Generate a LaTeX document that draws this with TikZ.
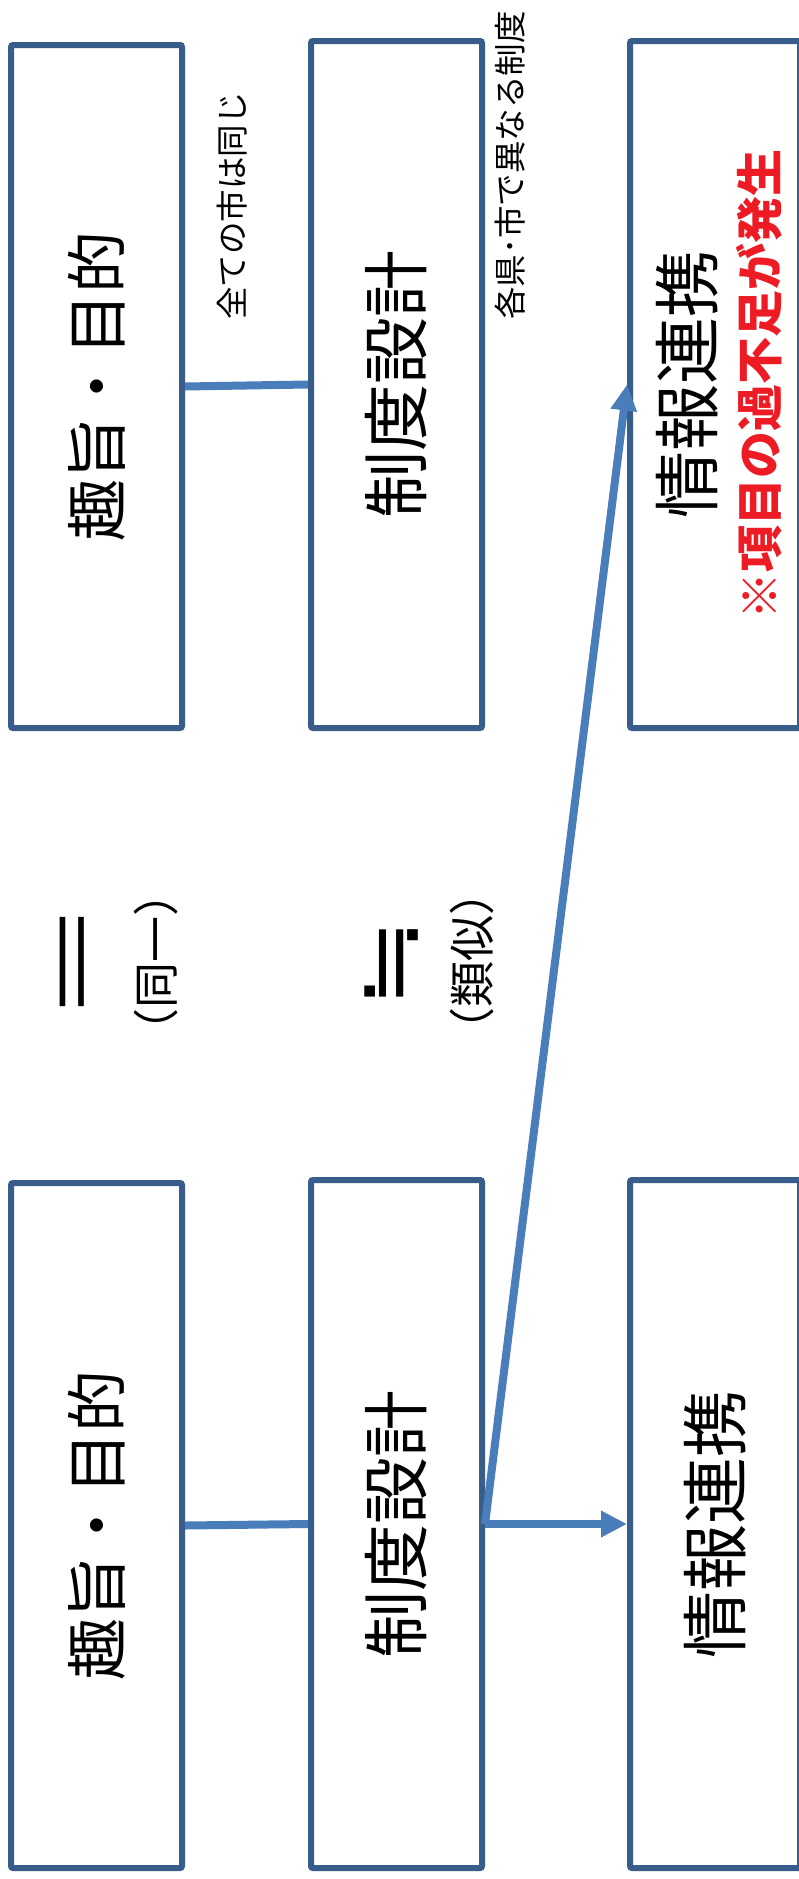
\documentclass[tikz,border=0pt]{standalone}
\usepackage{fontspec}
\setmainfont{Noto Sans CJK JP}
\newfontfamily\symfont{DejaVu Sans}
\usepackage{graphicx}
\usepackage{xcolor}
\definecolor{boxblue}{RGB}{56,93,138}
\definecolor{linkblue}{RGB}{74,126,187}
\definecolor{warnred}{RGB}{237,28,36}
\usetikzlibrary{arrows.meta}
\newcommand{\vtext}[1]{\rotatebox{90}{#1}}

\begin{document}
\begin{tikzpicture}[
  x=1pt, y=-1pt,
  stage/.style={
    rectangle, rounded corners=2pt, minimum width=171pt, inner sep=0pt,
    line width=6pt, draw=boxblue, fill=white,
    font=\fontsize{67}{70}\selectfont
  },
  link/.style={draw=linkblue, line width=8pt},
  linkarrow/.style={link, -{Triangle[length=26pt, width=25pt]}},
  note/.style={rotate=90, anchor=west, inner sep=0pt, font=\fontsize{32.5}{34}\selectfont},
  rel/.style={rotate=90, inner sep=0pt, font=\fontsize{#1}{#1}\selectfont}
]
\path[fill=white, use as bounding box] (0,0) rectangle (799,1879);

% upper row
\node[stage, minimum height=683pt, font=\fontsize{62}{64}\selectfont] (aimA) at (96.5,386.5) {\vtext{趣旨・目的}};
\node[stage, minimum height=687pt] (designA) at (396.5,384.5) {\vtext{制度設計}};
\node[stage, minimum height=687pt, minimum width=170pt] (infoA) at (715,384.5)
  {\vtext{\raisebox{-12pt}[\height][\depth]{\begin{tabular}{@{}c@{}}情報連携\\[-5pt]{\fontsize{47}{50}\selectfont\bfseries\color{warnred}※項目の過不足が発生}\end{tabular}}}};

% lower row
\node[stage, minimum height=685pt, font=\fontsize{62}{64}\selectfont] (aimB) at (96.5,1525.5) {\vtext{趣旨・目的}};
\node[stage, minimum height=688pt] (designB) at (396.5,1524) {\vtext{制度設計}};
\node[stage, minimum height=688pt, minimum width=170pt] (infoB) at (715,1524) {\vtext{情報連携}};

% notes
\node[note] (same) at (232,320) {全ての市は同じ};
\node[note] (differ) at (510,320) {各県･市で異なる制度};
\node[rel=82] (eq) at (82,962) {\scalebox{1.5}[1]{＝}};
\node[rel=46] (eqnote) at (156,962) {（同一）};
\node[rel=86] (approx) at (392,963) {\symfont\scalebox{1.25}[1]{≒}};
\node[rel=46] (approxnote) at (472,961) {（類似）};

% links
\draw[link] (aimA.east) -- (designA.west);
\draw[link] (aimB.east) -- (designB.west);
\draw[linkarrow] (designB.east) -- (infoB.west);
\draw[linkarrow] (designB.east) -- (infoA.west);
\end{tikzpicture}
\end{document}
